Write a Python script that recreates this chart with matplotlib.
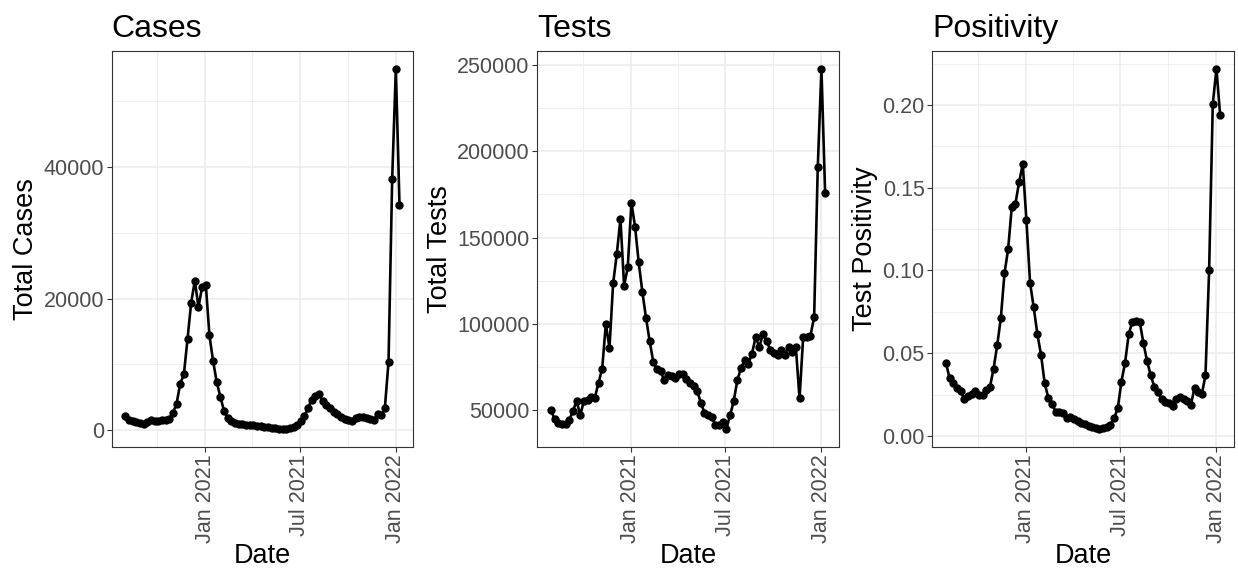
import pandas as pd
import matplotlib
matplotlib.use("Agg")
import matplotlib.pyplot as plt
import matplotlib.dates as mdates
import matplotlib.ticker as mticker

plt.rcParams['font.family'] = ['Liberation Sans', 'DejaVu Sans']

# weekly data, Aug 2020 - Jan 2022
week_start = '2020-08-01'
n_weeks = 76

cases = [2130, 1620, 1420, 1270, 1110, 950, 1270, 1520, 1420, 1420,
         1520, 1620, 1770, 2630, 4050, 7090, 8500, 13900, 19400, 22700,
         18700, 21800, 22100, 14400, 10500, 7300, 5060, 2940, 1870, 1420,
         1160, 1010, 910, 880, 860, 760, 700, 620, 560, 480,
         420, 330, 280, 250, 250, 300, 510, 860, 1370, 2130,
         3440, 4660, 5160, 5470, 4460, 3900, 3440, 2780, 2430, 2030,
         1770, 1620, 1420, 1920, 2030, 2030, 1870, 1720, 1620, 2430,
         2280, 3440, 10400, 38200, 54900, 34200]

tests = [50000, 44800, 42900, 41900, 41900, 44400, 49600, 55400, 47300, 55400,
         56000, 57700, 57300, 66000, 74000, 100000, 86200, 123500, 140400, 160800,
         122100, 132700, 170200, 156300, 135600, 118500, 103500, 90000, 77900, 73700,
         72500, 67500, 70200, 69800, 68800, 71300, 71200, 67900, 66000, 64000,
         61200, 54400, 48700, 47100, 46300, 41300, 41300, 43300, 39400, 47100,
         55400, 67500, 74600, 79000, 76900, 82900, 92500, 86500, 94400, 90000,
         85200, 83300, 81900, 85200, 82300, 86700, 83700, 86700, 56900, 92300,
         92300, 93300, 104000, 191000, 247700, 176000]

positivity = [0.0439, 0.0348, 0.0322, 0.0292, 0.0274, 0.0223, 0.0241, 0.0254, 0.0272, 0.0247,
              0.0247, 0.0278, 0.0294, 0.0404, 0.0547, 0.0712, 0.0982, 0.1129, 0.1384, 0.1404,
              0.1533, 0.1642, 0.1304, 0.0925, 0.0777, 0.0616, 0.0491, 0.0318, 0.0231, 0.0193,
              0.0147, 0.0147, 0.0137, 0.0111, 0.0117, 0.0101, 0.0091, 0.0080, 0.0070, 0.0062,
              0.0054, 0.0046, 0.0044, 0.0046, 0.0055, 0.0068, 0.0107, 0.0167, 0.0328, 0.0443,
              0.0616, 0.0690, 0.0694, 0.0690, 0.0563, 0.0455, 0.0368, 0.0298, 0.0264, 0.0221,
              0.0207, 0.0197, 0.0183, 0.0223, 0.0237, 0.0221, 0.0211, 0.0187, 0.0292, 0.0264,
              0.0252, 0.0368, 0.1002, 0.2006, 0.2219, 0.1942]

dates = pd.date_range(week_start, periods=n_weeks, freq='7D')

panels = [
    ('Cases', 'Total Cases', cases, 20000, 10000, '{x:.0f}', 111.7),
    ('Tests', 'Total Tests', tests, 50000, 25000, '{x:.0f}', 537.3),
    ('Positivity', 'Test Positivity', positivity, 0.05, 0.025, '{x:.2f}', 932.3),
]

W, H = 1238, 569
fig = plt.figure(figsize=(W / 100, H / 100), dpi=100)

for title, ylab, vals, major, minor, fmt, left in panels:
    ax = fig.add_axes([left / W, 1 - 446.7 / H, 301.5 / W, 396 / H])
    ax.plot(dates, vals, color='black', lw=1.9, marker='o', ms=5, zorder=3)
    ax.margins(x=0.05, y=0.05)

    ax.xaxis.set_major_locator(mdates.MonthLocator(bymonth=[1, 7]))
    ax.xaxis.set_minor_locator(mdates.MonthLocator(bymonth=[4, 10]))
    ax.xaxis.set_major_formatter(mdates.DateFormatter('%b %Y'))
    ax.yaxis.set_major_locator(mticker.MultipleLocator(major))
    ax.yaxis.set_minor_locator(mticker.MultipleLocator(minor))
    ax.yaxis.set_major_formatter(mticker.StrMethodFormatter(fmt))

    ax.grid(which='major', color='#EBEBEB', lw=1.1, zorder=0)
    ax.grid(which='minor', color='#EBEBEB', lw=0.55, zorder=0)
    ax.set_axisbelow(True)
    for s in ax.spines.values():
        s.set_color('#333333')
        s.set_linewidth(0.8)

    ax.tick_params(which='major', length=3.5, width=0.8, color='#333333',
                   labelcolor='#4D4D4D', labelsize=15.5, pad=2)
    ax.tick_params(which='minor', length=0)
    for lbl in ax.get_xticklabels():
        lbl.set_rotation(90)

    ax.set_title(title, loc='left', fontsize=23, pad=10)
    ax.set_xlabel('Date', fontsize=19.5, labelpad=0)
    ax.set_ylabel(ylab, fontsize=19.5, labelpad=3)

fig.savefig('out.png', dpi=100)
